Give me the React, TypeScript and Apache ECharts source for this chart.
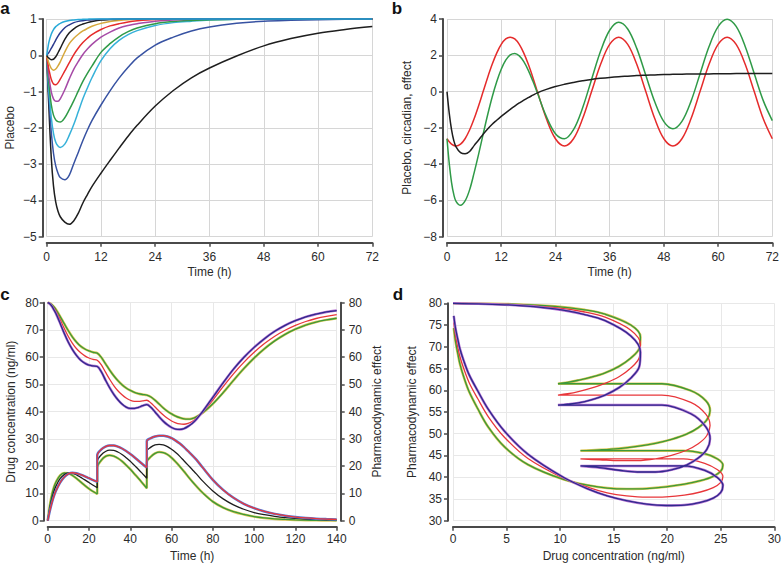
import React, { useEffect, useRef } from "react";
import * as echarts from "echarts";

// ---------------- Panel a: placebo curves ----------------
const placeboTime = [0, 0.25, 0.5, 1, 1.5, 2, 2.5, 3, 4, 5, 6, 7, 8, 9, 10, 12, 14, 16, 18, 20, 24, 28, 32, 36, 42, 48, 54, 60, 66, 72];
const placeboCyan = [0, 0.2, 0.37, 0.58, 0.71, 0.79, 0.84, 0.88, 0.93, 0.96, 0.975, 0.985, 0.99, 0.995, 1, 1, 1, 1, 1, 1, 1, 1, 1, 1, 1, 1, 1, 1, 1, 1];
const placeboNavy = [0, 0.04, 0.08, 0.19, 0.3, 0.42, 0.53, 0.62, 0.76, 0.84, 0.9, 0.935, 0.955, 0.97, 0.98, 0.99, 0.995, 1, 1, 1, 1, 1, 1, 1, 1, 1, 1, 1, 1, 1];
const placeboBlackSmall = [0, -0.05, -0.08, -0.12, -0.11, -0.04, 0.07, 0.19, 0.44, 0.62, 0.73, 0.81, 0.86, 0.9, 0.93, 0.97, 0.985, 0.995, 1, 1, 1, 1, 1, 1, 1, 1, 1, 1, 1, 1];
const placeboGold = [0, -0.12, -0.22, -0.36, -0.41, -0.38, -0.29, -0.18, 0.09, 0.32, 0.47, 0.58, 0.67, 0.74, 0.8, 0.88, 0.93, 0.96, 0.98, 0.99, 1, 1, 1, 1, 1, 1, 1, 1, 1, 1];
const placeboRed = [0, -0.22, -0.4, -0.66, -0.79, -0.81, -0.76, -0.66, -0.43, -0.2, 0.02, 0.2, 0.35, 0.47, 0.57, 0.71, 0.81, 0.87, 0.92, 0.95, 0.985, 0.995, 1, 1, 1, 1, 1, 1, 1, 1];
const placeboMagenta = [0, -0.33, -0.6, -1.0, -1.2, -1.27, -1.27, -1.2, -0.95, -0.65, -0.38, -0.17, 0.02, 0.17, 0.3, 0.5, 0.64, 0.75, 0.82, 0.87, 0.94, 0.97, 0.99, 0.995, 1, 1, 1, 1, 1, 1];
const placeboGreen = [0, -0.45, -0.8, -1.35, -1.65, -1.78, -1.83, -1.84, -1.72, -1.5, -1.25, -0.98, -0.72, -0.5, -0.3, 0.08, 0.32, 0.51, 0.65, 0.75, 0.87, 0.93, 0.96, 0.98, 0.99, 1, 1, 1, 1, 1];
const placeboLightBlue = [0, -0.55, -1.0, -1.7, -2.15, -2.4, -2.5, -2.54, -2.45, -2.2, -1.9, -1.55, -1.2, -0.9, -0.62, -0.15, 0.18, 0.41, 0.57, 0.68, 0.82, 0.9, 0.94, 0.97, 0.99, 0.995, 1, 1, 1, 1];
const placeboBlue = [0, -0.65, -1.2, -2.1, -2.7, -3.05, -3.25, -3.37, -3.43, -3.3, -2.98, -2.67, -2.35, -2.06, -1.8, -1.37, -0.98, -0.63, -0.33, -0.07, 0.28, 0.5, 0.67, 0.78, 0.88, 0.94, 0.965, 0.98, 0.99, 0.995];
const placeboBlackLarge = [0, -0.8, -1.5, -2.8, -3.6, -4.05, -4.3, -4.45, -4.6, -4.66, -4.56, -4.35, -4.07, -3.84, -3.62, -3.25, -2.9, -2.56, -2.23, -1.93, -1.4, -0.97, -0.62, -0.35, -0.02, 0.26, 0.46, 0.61, 0.71, 0.79];

// ---------------- Panel b: placebo + circadian ----------------
const circTime = [0, 0.5, 1, 1.5, 2, 3, 4, 5, 6, 7, 8, 9, 10, 11, 12, 13, 14, 15, 16, 17, 18, 19, 20, 22, 24, 26, 28, 30, 32, 34, 36, 38, 40, 42, 44, 46, 48, 50, 52, 54, 56, 58, 60, 62, 64, 66, 68, 70, 72];
const circadianRed = [-2.6, -2.77, -2.9, -2.97, -3, -2.9, -2.6, -2.12, -1.5, -0.78, 0, 0.78, 1.5, 2.12, 2.6, 2.9, 3, 2.9, 2.6, 2.12, 1.5, 0.78, 0, -1.5, -2.6, -3, -2.6, -1.5, 0, 1.5, 2.6, 3, 2.6, 1.5, 0, -1.5, -2.6, -3, -2.6, -1.5, 0, 1.5, 2.6, 3, 2.6, 1.5, 0, -1.5, -2.6];
const placeboBlackB = [0, -1.2, -2.1, -2.7, -3.05, -3.37, -3.43, -3.3, -2.98, -2.67, -2.35, -2.06, -1.8, -1.58, -1.37, -1.17, -0.98, -0.8, -0.63, -0.47, -0.33, -0.2, -0.07, 0.12, 0.28, 0.4, 0.5, 0.59, 0.67, 0.73, 0.78, 0.82, 0.85, 0.88, 0.9, 0.92, 0.94, 0.95, 0.96, 0.965, 0.97, 0.975, 0.98, 0.985, 0.99, 0.99, 0.99, 0.995, 0.995];
const combinedGreen = [-2.6, -3.97, -5.0, -5.67, -6.05, -6.27, -6.03, -5.42, -4.48, -3.45, -2.35, -1.28, -0.3, 0.54, 1.23, 1.73, 2.02, 2.1, 1.97, 1.65, 1.17, 0.58, -0.07, -1.38, -2.32, -2.6, -2.1, -0.91, 0.67, 2.23, 3.38, 3.82, 3.45, 2.38, 0.9, -0.58, -1.66, -2.05, -1.64, -0.54, 0.97, 2.48, 3.58, 3.99, 3.59, 2.49, 0.99, -0.5, -1.6];

// ---------------- Panel c: concentration & effect (dose at 0, 24, 48 h) ----------------
const pkTime = [0, 1, 2, 3, 4, 6, 8, 10, 12, 14, 16, 18, 20, 22, 24, 24, 26, 28, 30, 32, 34, 36, 38, 40, 42, 44, 46, 48, 48, 50, 52, 54, 56, 58, 60, 62, 64, 66, 68, 70, 72, 75, 80, 85, 90, 95, 100, 105, 110, 115, 120, 125, 130, 135, 140];
const concGreen = [0, 5.5, 9.5, 12.3, 14.2, 16.6, 17.5, 17.4, 16.6, 15.5, 14.2, 12.9, 11.7, 10.7, 9.8, 19.5, 22.2, 23.6, 24.0, 23.7, 22.9, 21.8, 20.4, 18.9, 17.2, 15.5, 13.7, 11.9, 21.5, 23.5, 24.7, 25.2, 25.0, 24.3, 23.1, 21.6, 19.9, 18.1, 16.2, 14.4, 12.7, 10.3, 7.0, 4.8, 3.3, 2.3, 1.5, 1.0, 0.65, 0.45, 0.3, 0.2, 0.14, 0.1, 0.07];
const concBlack = [0, 4.5, 8.0, 10.7, 12.7, 15.4, 16.9, 17.5, 17.4, 16.8, 15.9, 15.0, 14.0, 13.0, 12.1, 21.8, 24.2, 25.4, 25.9, 25.8, 25.2, 24.3, 23.1, 21.8, 20.3, 18.8, 17.2, 15.6, 25.4, 27.0, 27.8, 28.0, 27.8, 27.2, 26.2, 25.0, 23.6, 22.0, 20.4, 18.8, 17.2, 14.6, 10.9, 8.0, 5.8, 4.2, 3.0, 2.2, 1.6, 1.15, 0.85, 0.62, 0.46, 0.35, 0.27];
const concRed = [0, 3.5, 6.5, 9.0, 11.0, 14.0, 16.0, 17.2, 17.6, 17.4, 16.9, 16.3, 15.6, 14.9, 14.3, 24.0, 26.2, 27.2, 27.6, 27.6, 27.2, 26.5, 25.6, 24.5, 23.3, 22.0, 20.7, 19.5, 29.2, 30.3, 30.9, 31.2, 31.2, 30.9, 30.3, 29.4, 28.3, 27.0, 25.5, 24.0, 22.4, 19.6, 15.0, 11.3, 8.4, 6.2, 4.6, 3.4, 2.5, 1.85, 1.35, 1.0, 0.75, 0.58, 0.45];
const effectNavy = [80, 79.6, 78.7, 77.4, 76.0, 72.5, 68.8, 65.5, 62.8, 60.6, 58.9, 57.8, 57.1, 56.8, 56.6, 56.6, 54.6, 51.6, 48.8, 46.4, 44.4, 42.8, 41.7, 41.2, 41.2, 41.6, 42.2, 42.6, 42.6, 41.6, 39.9, 38.1, 36.5, 35.2, 34.2, 33.6, 33.5, 33.8, 34.6, 35.7, 37.2, 40.0, 45.3, 50.6, 55.6, 59.9, 63.6, 66.8, 69.5, 71.7, 73.4, 74.8, 75.8, 76.6, 77.1];
const effectRed = [80, 79.7, 79.0, 78.0, 76.8, 73.8, 70.6, 67.6, 65.1, 63.1, 61.6, 60.5, 59.7, 59.2, 58.9, 58.9, 57.2, 54.5, 51.9, 49.6, 47.7, 46.2, 45.0, 44.2, 43.8, 43.8, 44.0, 44.2, 44.2, 43.2, 41.7, 40.2, 38.8, 37.6, 36.6, 35.9, 35.5, 35.4, 35.7, 36.4, 37.6, 39.8, 44.3, 49.2, 53.9, 58.1, 61.8, 65.0, 67.7, 69.9, 71.7, 73.1, 74.2, 75.0, 75.6];
const effectGreen = [80, 79.8, 79.3, 78.5, 77.5, 75.0, 72.3, 69.7, 67.4, 65.5, 64.0, 63.0, 62.3, 61.8, 61.5, 61.5, 59.9, 57.6, 55.3, 53.2, 51.4, 49.9, 48.7, 47.8, 47.1, 46.6, 46.3, 46.1, 46.1, 45.4, 44.2, 42.8, 41.4, 40.2, 39.2, 38.4, 37.8, 37.4, 37.3, 37.5, 38.1, 39.5, 42.9, 47.0, 51.5, 55.8, 59.7, 63.1, 66.0, 68.4, 70.3, 71.8, 72.9, 73.7, 74.3];

// tick settings
const placeboTicks = { min: -5, max: 1, interval: 1 };
const circTicks = { min: -8, max: 4, interval: 2 };
const hourTicks72 = { min: 0, max: 72, interval: 12 };
const hourTicks140 = { min: 0, max: 140, interval: 20 };
const concTicks = { min: 0, max: 80, interval: 10 };
const pdTicks = { min: 30, max: 80, interval: 5 };
const concXTicks = { min: 0, max: 30, interval: 5 };

const FONT = "'Liberation Sans', Arial, Helvetica, sans-serif";
const AXIS = "#4a4a4a";
const TXT = "#2b2b2b";

const minus = (v: number) => String(v).replace("-", "\u2212");
const pairs = (xs: number[], ys: number[]) => xs.map((x, i) => [x, ys[i]]);

function xAx(gridIndex: number, t: any, name: string, nameGap: number, margin: number, grid: string) {
  return {
    type: "value", gridIndex, ...t, name, nameLocation: "middle", nameGap,
    nameTextStyle: { fontFamily: FONT, fontSize: 12, color: TXT },
    offset: 6,
    axisLine: { show: true, onZero: false, lineStyle: { color: AXIS, width: 2 } },
    axisTick: { show: true, length: 4, lineStyle: { color: AXIS, width: 1.5 } },
    axisLabel: { margin, fontFamily: FONT, fontSize: 12, color: TXT, formatter: minus },
    splitLine: { show: true, lineStyle: { color: grid, width: 1 } },
  };
}
function yAx(gridIndex: number, t: any, name: string, nameGap: number, margin: number, grid: string | null, position = "left", offset = 4) {
  return {
    type: "value", gridIndex, ...t, name, nameLocation: "middle", nameGap, position,
    nameTextStyle: { fontFamily: FONT, fontSize: 12, color: TXT },
    offset,
    axisLine: { show: true, onZero: false, lineStyle: { color: AXIS, width: 2 } },
    axisTick: { show: true, length: 4, lineStyle: { color: AXIS, width: 1.5 } },
    axisLabel: { margin, fontFamily: FONT, fontSize: 12, color: TXT, formatter: minus },
    splitLine: grid ? { show: true, lineStyle: { color: grid, width: 1 } } : { show: false },
  };
}
function ln(xi: number, yi: number, data: number[][], color: string, width = 1.4) {
  return {
    type: "line", xAxisIndex: xi, yAxisIndex: yi, data, showSymbol: false, symbol: "none",
    smooth: 0.35, clip: false, silent: true,
    lineStyle: { color, width }, itemStyle: { color },
  };
}

const C = {
  cyan: "#2aaad8", navy: "#2c3b8e", black: "#1e1e1e", gold: "#d6a83c", red: "#e52b2b",
  magenta: "#a64aa6", green: "#2f9a47", lightBlue: "#36b1d9", blue: "#3752a2",
  cNavy: "#2e2a8c", cPurple: "#b470d2", cRed: "#e8363a", cGreen: "#3a993a", cYellow: "#dcc654", cBlue: "#5577d6",
};

export default function App() {
  const ref = useRef<HTMLDivElement>(null);
  useEffect(() => {
    const chart = echarts.init(ref.current!, null, { renderer: "svg" });
    const gridA = "#d6d6d6";
    const gridC = "#e8e8e8";
    const H = 2.5; // halo width
    const W = 1.3; // main line width in c/d
    const option: any = {
      animation: false,
      backgroundColor: "#ffffff",
      textStyle: { fontFamily: FONT },
      grid: [
        { left: 46.7, top: 19, width: 325.6, height: 217.7 },
        { left: 447, top: 19, width: 325.3, height: 217.7 },
        { left: 47.7, top: 302.7, width: 289, height: 218 },
        { left: 453, top: 303.3, width: 323, height: 217.4 },
      ],
      xAxis: [
        xAx(0, hourTicks72, "Time (h)", 23, 8, gridA),
        xAx(1, hourTicks72, "Time (h)", 23, 8, gridA),
        xAx(2, hourTicks140, "Time (h)", 23, 6, gridC),
        xAx(3, concXTicks, "Drug concentration (ng/ml)", 23, 6, gridC),
      ],
      yAxis: [
        yAx(0, placeboTicks, "Placebo", 27, 6, gridA),
        yAx(1, circTicks, "Placebo, circadian, effect", 30, 6, gridA),
        yAx(2, concTicks, "Drug concentration (ng/ml)", 27, 5, gridC),
        yAx(2, concTicks, "Pharmacodynamic effect", 30, 8, null, "right", 4),
        yAx(3, pdTicks, "Pharmacodynamic effect", 30, 6, gridC, "left", 5),
      ],
      graphic: [
        { type: "text", x: 5, y: 8, style: { text: "a", fontSize: 17, fontWeight: "bold", fontFamily: FONT, fill: "#111", align: "center", verticalAlign: "middle" } },
        { type: "text", x: 397, y: 8, style: { text: "b", fontSize: 17, fontWeight: "bold", fontFamily: FONT, fill: "#111", align: "center", verticalAlign: "middle" } },
        { type: "text", x: 5, y: 294, style: { text: "c", fontSize: 17, fontWeight: "bold", fontFamily: FONT, fill: "#111", align: "center", verticalAlign: "middle" } },
        { type: "text", x: 398, y: 294, style: { text: "d", fontSize: 17, fontWeight: "bold", fontFamily: FONT, fill: "#111", align: "center", verticalAlign: "middle" } },
      ],
      series: [
        // panel a
        ln(0, 0, pairs(placeboTime, placeboBlackLarge), C.black, 1.5),
        ln(0, 0, pairs(placeboTime, placeboBlue), C.blue, 1.5),
        ln(0, 0, pairs(placeboTime, placeboLightBlue), C.lightBlue, 1.5),
        ln(0, 0, pairs(placeboTime, placeboGreen), C.green, 1.5),
        ln(0, 0, pairs(placeboTime, placeboMagenta), C.magenta, 1.5),
        ln(0, 0, pairs(placeboTime, placeboRed), C.red, 1.5),
        ln(0, 0, pairs(placeboTime, placeboGold), C.gold, 1.5),
        ln(0, 0, pairs(placeboTime, placeboBlackSmall), C.black, 1.5),
        ln(0, 0, pairs(placeboTime, placeboNavy), C.navy, 1.5),
        ln(0, 0, pairs(placeboTime, placeboCyan), C.cyan, 1.5),
        // panel b
        ln(1, 1, pairs(circTime, circadianRed), C.red, 1.5),
        ln(1, 1, pairs(circTime, combinedGreen), C.green, 1.5),
        ln(1, 1, pairs(circTime, placeboBlackB), C.black, 1.5),
        // panel c - concentrations (left axis)
        ln(2, 2, pairs(pkTime, concGreen), C.cYellow, H),
        ln(2, 2, pairs(pkTime, concGreen), C.cGreen, W),
        ln(2, 2, pairs(pkTime, concBlack), C.black, W),
        ln(2, 2, pairs(pkTime, concRed), C.cBlue, H),
        ln(2, 2, pairs(pkTime, concRed), C.cRed, W),
        // panel c - effects (right axis)
        ln(2, 3, pairs(pkTime, effectGreen), C.cYellow, H),
        ln(2, 3, pairs(pkTime, effectGreen), C.cGreen, W),
        ln(2, 3, pairs(pkTime, effectRed), C.cRed, W),
        ln(2, 3, pairs(pkTime, effectNavy), C.cPurple, H),
        ln(2, 3, pairs(pkTime, effectNavy), C.cNavy, W),
        // panel d - effect vs concentration
        ln(3, 4, pairs(concGreen, effectGreen), C.cYellow, H),
        ln(3, 4, pairs(concGreen, effectGreen), C.cGreen, W),
        ln(3, 4, pairs(concGreen, effectRed), C.cRed, W),
        ln(3, 4, pairs(concGreen, effectNavy), C.cPurple, H),
        ln(3, 4, pairs(concGreen, effectNavy), C.cNavy, W),
      ],
    };
    chart.setOption(option);
    return () => chart.dispose();
  }, []);
  return (
    <div
      ref={ref}
      style={{ position: "absolute", left: 0, top: 0, width: 784, height: 565, background: "#fff" }}
    />
  );
}
